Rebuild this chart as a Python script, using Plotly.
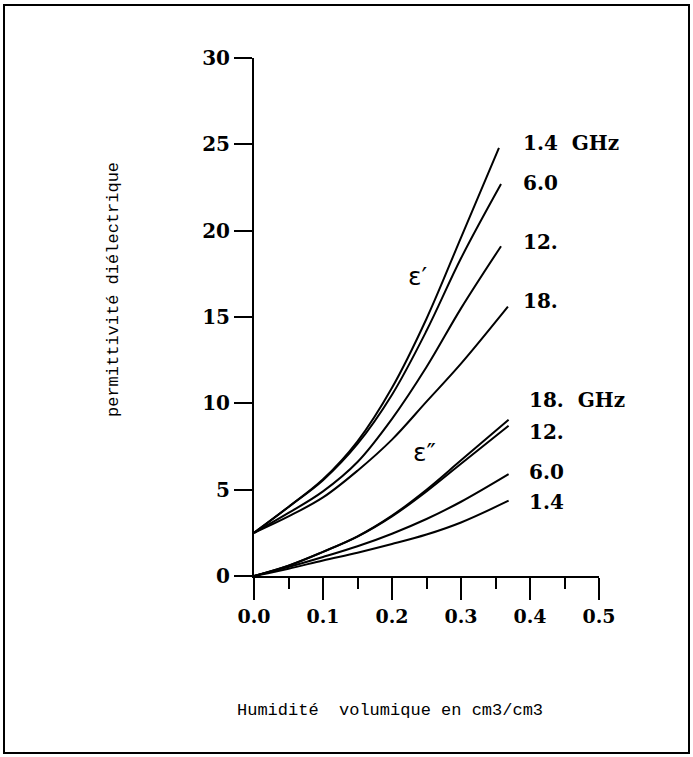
import plotly.graph_objects as go

# ---- data ----
humidity = [0.0, 0.05, 0.10, 0.15, 0.20, 0.25, 0.30]

eps_real_1_4 = [2.5, 4.0, 5.6, 7.8, 10.9, 14.9, 19.6]
eps_real_6_0 = [2.5, 4.0, 5.55, 7.65, 10.5, 14.2, 18.4]
eps_real_12 = [2.5, 3.65, 4.9, 6.6, 9.1, 12.1, 15.5]
eps_real_18 = [2.5, 3.45, 4.55, 6.1, 7.9, 10.1, 12.3]
eps_real_end_x = [0.355, 0.358, 0.358, 0.368]
eps_real_end_y = [24.8, 22.7, 19.1, 15.6]

eps_imag_18 = [0.0, 0.6, 1.4, 2.3, 3.5, 5.0, 6.7]
eps_imag_12 = [0.0, 0.6, 1.4, 2.28, 3.45, 4.9, 6.5]
eps_imag_6_0 = [0.0, 0.52, 1.1, 1.72, 2.45, 3.3, 4.3]
eps_imag_1_4 = [0.0, 0.42, 0.9, 1.35, 1.85, 2.4, 3.1]
eps_imag_end_x = [0.369, 0.369, 0.369, 0.369]
eps_imag_end_y = [9.05, 8.7, 5.9, 4.36]

real_labels = ["1.4  GHz", "6.0", "12.", "18."]
imag_labels = ["18.  GHz", "12.", "6.0", "1.4"]

x_tick_vals = [0.0, 0.1, 0.2, 0.3, 0.4, 0.5]
x_tick_text = ["0.0", "0.1", "0.2", "0.3", "0.4", "0.5"]
y_tick_vals = [0, 5, 10, 15, 20, 25, 30]
y_tick_text = ["0", "5", "10", "15", "20", "25", "30"]

x_title = "Humidité  volumique en cm3/cm3"
y_title = "permittivité diélectrique"

# ---- figure ----
W, H = 693, 757
L, R, T, B = 254, 94, 58, 181
pw, ph = W - L - R, H - T - B


def px(x):
    return (x - L) / pw


def py(y):
    return (H - B - y) / ph


fig = go.Figure()

real_series = [eps_real_1_4, eps_real_6_0, eps_real_12, eps_real_18]
imag_series = [eps_imag_18, eps_imag_12, eps_imag_6_0, eps_imag_1_4]

line_style = dict(color="black", width=2, shape="spline", smoothing=1.0)
for ys, ex, ey in zip(real_series, eps_real_end_x, eps_real_end_y):
    fig.add_trace(go.Scatter(x=humidity + [ex], y=ys + [ey], mode="lines",
                             line=line_style, showlegend=False, hoverinfo="skip"))
for ys, ex, ey in zip(imag_series, eps_imag_end_x, eps_imag_end_y):
    fig.add_trace(go.Scatter(x=humidity + [ex], y=ys + [ey], mode="lines",
                             line=line_style, showlegend=False, hoverinfo="skip"))

lab_font = dict(family="DejaVu Serif", size=20, color="black", weight="bold")
real_lab_y = [143, 183, 242, 301]
imag_lab_y = [400, 432, 472, 502]
for t, yy in zip(real_labels, real_lab_y):
    fig.add_annotation(x=px(521), y=py(yy), xref="paper", yref="paper", text=t,
                       showarrow=False, xanchor="left", yanchor="middle", font=lab_font)
for t, yy in zip(imag_labels, imag_lab_y):
    fig.add_annotation(x=px(527), y=py(yy), xref="paper", yref="paper", text=t,
                       showarrow=False, xanchor="left", yanchor="middle", font=lab_font)

eps_font = dict(family="DejaVu Sans", size=25, color="black")
fig.add_annotation(x=px(418), y=py(276), xref="paper", yref="paper", text="ε′",
                   showarrow=False, font=eps_font)
fig.add_annotation(x=px(424), y=py(469), xref="paper", yref="paper", text="ε″",
                   showarrow=False, font=eps_font)

mono = dict(family="Liberation Mono", size=17, color="black")
fig.add_annotation(x=px(390), y=py(710), xref="paper", yref="paper", text=x_title,
                   showarrow=False, font=mono, xanchor="center", yanchor="middle")
fig.add_annotation(x=px(113), y=py(290), xref="paper", yref="paper", text=y_title,
                   showarrow=False, font=mono, textangle=-90, xanchor="center", yanchor="middle")

# frame
fig.add_shape(type="rect", xref="paper", yref="paper",
              x0=px(4), x1=px(689), y0=py(753), y1=py(5),
              line=dict(color="black", width=2))

tick_font = dict(family="DejaVu Serif", size=19, color="black", weight="bold")
fig.update_xaxes(range=[0, 0.5], showgrid=False, zeroline=False,
                 showline=True, linecolor="black", linewidth=2,
                 ticks="outside", ticklen=22, tickwidth=2, tickcolor="black",
                 tickvals=x_tick_vals, ticktext=x_tick_text, tickfont=tick_font,
                 minor=dict(dtick=0.05, tick0=0, ticks="outside", ticklen=11,
                            tickwidth=2, tickcolor="black", showgrid=False))
fig.update_yaxes(range=[0, 30], showgrid=False, zeroline=False,
                 showline=True, linecolor="black", linewidth=2,
                 ticks="outside", ticklen=18, tickwidth=2, tickcolor="black",
                 tickvals=y_tick_vals, ticktext=y_tick_text,
                 tickfont=dict(family="DejaVu Serif", size=20, color="black", weight="bold"))

fig.update_layout(width=W, height=H, margin=dict(l=L, r=R, t=T, b=B),
                  plot_bgcolor="white", paper_bgcolor="white")

fig.write_html("out.html")
